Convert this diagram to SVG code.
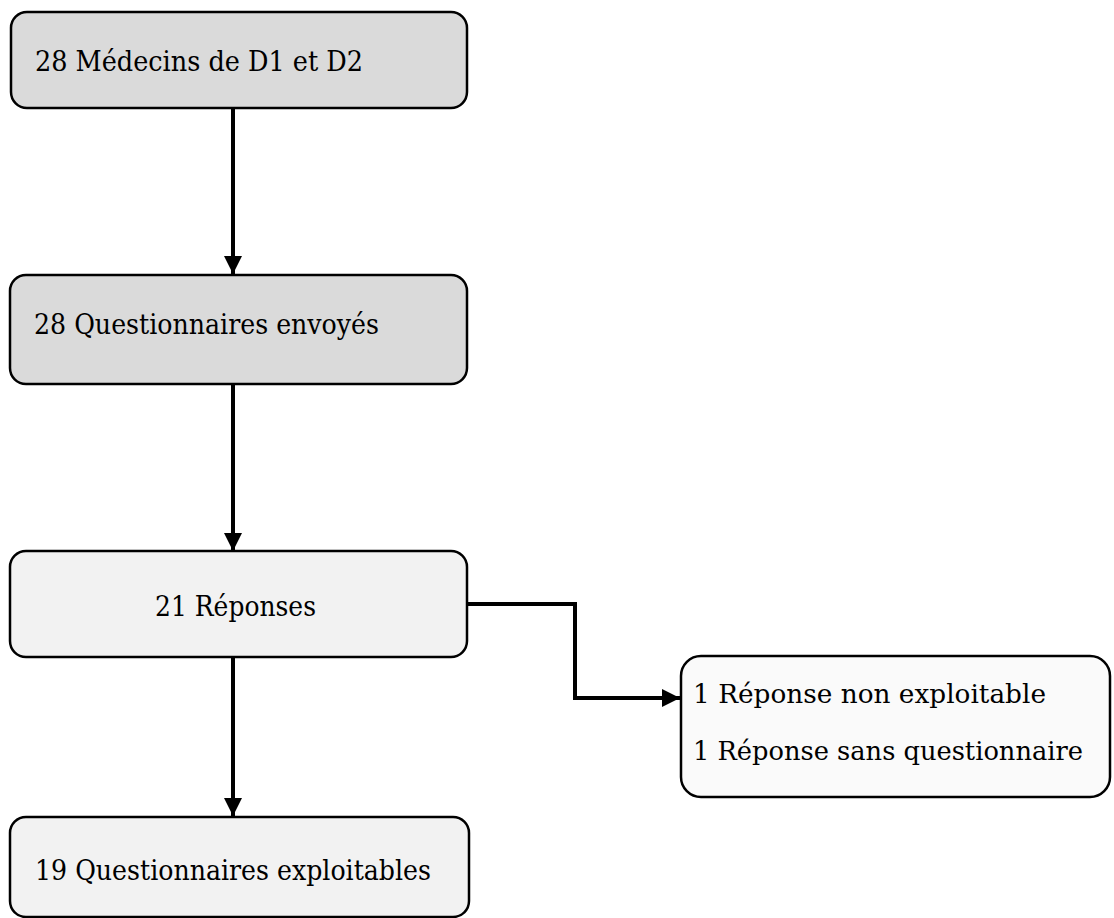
<svg xmlns="http://www.w3.org/2000/svg" width="1114" height="918" viewBox="0 0 1114 918">
<style>
.box{stroke:#000;stroke-width:2.5}
.grey{fill:#dadada}
.light{fill:#f2f2f2}
.white{fill:#fafafa}
.t{font-family:"DejaVu Serif","Liberation Serif",serif;font-size:28px;fill:#000}
.s{font-size:26px}
.conn{fill:none;stroke:#000;stroke-width:4}
</style>
<defs>
<marker id="ah" viewBox="0 0 10 10" refX="10" refY="5" markerWidth="4.5" markerHeight="4.5" markerUnits="strokeWidth" orient="auto">
<path d="M0,0 L10,5 L0,10 z" fill="#000"/>
</marker>
</defs>
<rect width="1114" height="918" fill="#fff"/>
<g id="connectors">
<line class="conn" x1="233" y1="108" x2="233" y2="274" marker-end="url(#ah)"/>
<line class="conn" x1="233" y1="384" x2="233" y2="551" marker-end="url(#ah)"/>
<line class="conn" x1="233" y1="657" x2="233" y2="816" marker-end="url(#ah)"/>
<polyline class="conn" points="467,604 575,604 575,698 680,698" marker-end="url(#ah)"/>
</g>
<g id="n1">
<rect class="box grey" x="11" y="12" width="456" height="96" rx="16"/>
<text class="t" x="35" y="71" textLength="328" lengthAdjust="spacingAndGlyphs">28 Médecins de D1 et D2</text>
</g>
<g id="n2">
<rect class="box grey" x="10" y="275" width="457" height="109" rx="16"/>
<text class="t" x="34" y="334" textLength="345" lengthAdjust="spacingAndGlyphs">28 Questionnaires envoyés</text>
</g>
<g id="n3">
<rect class="box light" x="10" y="551" width="457" height="106" rx="16"/>
<text class="t" x="155" y="616" textLength="161" lengthAdjust="spacingAndGlyphs">21 Réponses</text>
</g>
<g id="n4">
<rect class="box white" x="681" y="656" width="429" height="141" rx="20"/>
<text class="t s" x="693" y="703" textLength="353" lengthAdjust="spacingAndGlyphs">1 Réponse non exploitable</text>
<text class="t s" x="693" y="760" textLength="390" lengthAdjust="spacingAndGlyphs">1 Réponse sans questionnaire</text>
</g>
<g id="n5">
<rect class="box light" x="10" y="817" width="459" height="100" rx="16"/>
<text class="t" x="35" y="880" textLength="396" lengthAdjust="spacingAndGlyphs">19 Questionnaires exploitables</text>
</g>
</svg>
